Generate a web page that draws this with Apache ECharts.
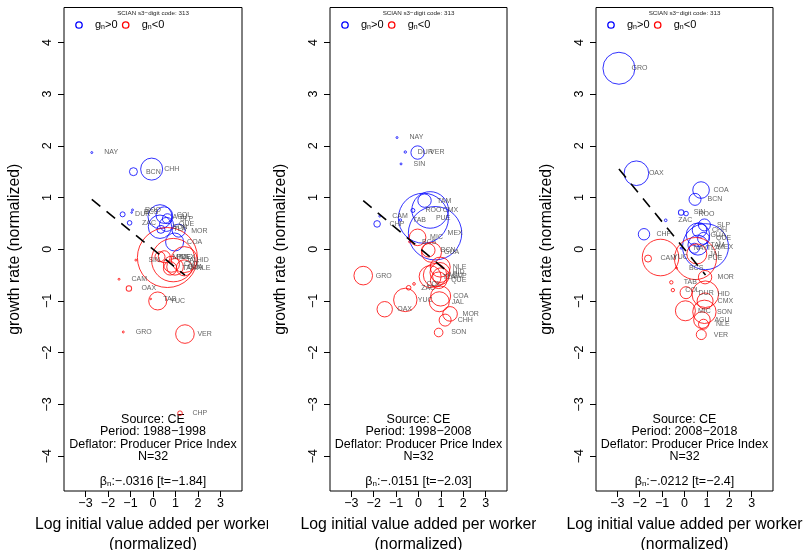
<!DOCTYPE html>
<html>
<head>
<meta charset="utf-8">
<script src="https://cdn.jsdelivr.net/npm/echarts@6.0.0/dist/echarts.min.js"></script>
<style>
  html, body { margin: 0; padding: 0; background: #fff; }
  #wrap { position: relative; width: 804px; height: 550px; overflow: hidden; background: #fff; }
  .panel { position: absolute; top: 0; width: 268px; height: 550px; }
</style>
</head>
<body>
<div id="wrap">
  <div class="panel" id="p1" style="left:0px"></div>
  <div class="panel" id="p2" style="left:268px"></div>
  <div class="panel" id="p3" style="left:536px"></div>
</div>
<script>
// ---------------- data: 1988-1998 ----------------
const states1   = ['NAY','BCN','CHH','DUR','ROO','BCS','ZAC','AGU','SON','COL','SLP','QUE','TLA','MOR','COA',
                   'SIN','MIC','CAM','OAX','TAB','YUC','GRO','VER','CHP','MEX','JAL','PUE','HID','CMX','NLE','GUA','TAM'];
const logva1    = [-2.72,-0.87,-0.06,-1.35,-0.91,-0.95,-1.04,0.31,0.31,0.50,0.64,0.60,0.35,1.14,0.96,
                   -0.76,0.31,-1.51,-1.07,-0.10,0.21,-1.32,1.42,1.20,0.64,0.90,0.50,1.39,0.82,1.39,0.98,0.76];
const growth1   = [1.87,1.50,1.55,0.675,0.76,0.71,0.51,0.63,0.435,0.66,0.59,0.48,0.385,0.36,0.14,
                   -0.21,-0.145,-0.58,-0.76,-0.96,-1.00,-1.60,-1.64,-3.17,-0.16,-0.21,-0.145,-0.20,-0.29,-0.36,-0.34,-0.37];
const share1    = [0.06,1.0,7.56,0.39,0.06,0.04,0.33,9.0,8.56,4.3,1.56,3.06,1.0,2.64,5.06,
                   0.06,1.56,0.06,0.46,0.04,5.06,0.06,5.4,0.33,56.25,29.4,2.25,10.56,4.0,4.0,4.3,2.8];
const gnPos1    = [1,1,1,1,1,1,1,1,1,1,1,1,1,1,1, 0,0,0,0,0,0,0,0,0,0,0,0,0,0,0,0,0];
const slope1 = -0.354, icpt1 = 0.0;

// ---------------- data: 1998-2008 ----------------
const states2   = ['NAY','DUR','VER','SIN','CHP','CAM','TAB','ROO','TAM','CMX','PUE','MEX',
                   'MIC','BCS','BCN','GUA','NLE','GRO','ZAC','COL','YUC','OAX','COA','JAL','MOR','CHH','SON','AGU','HID','SLP','QUE','TLA'];
const logva2    = [-0.96,-0.59,-0.04,-0.78,-1.85,-1.73,-0.81,-0.25,0.27,0.52,0.22,0.74,
                   -0.04,-0.40,0.44,0.58,0.97,-2.47,-0.44,-0.20,-0.59,-1.51,0.99,0.93,1.41,1.19,0.90,0.74,0.96,1.00,0.90,0.52];
const growth2   = [2.16,1.88,1.87,1.65,0.49,0.64,0.565,0.75,0.94,0.76,0.60,0.31,
                   0.23,0.145,-0.02,-0.06,-0.345,-0.51,-0.745,-0.67,-0.98,-1.16,-0.905,-1.015,-1.25,-1.37,-1.61,-0.50,-0.45,-0.52,-0.60,-0.53];
const share2    = [0.06,0.09,2.8,0.06,0.68,0.06,0.09,0.25,2.8,20.9,39.1,44.6,
                   4.3,0.06,2.8,6.25,6.25,5.4,0.33,0.11,8.56,3.7,6.25,6.25,3.33,2.25,1.16,8.56,6.25,4.3,4.3,7.56];
const gnPos2    = [1,1,1,1,1,1,1,1,1,1,1,1, 0,0,0,0,0,0,0,0,0,0,0,0,0,0,0,0,0,0,0,0];
const slope2 = -0.365, icpt2 = 0.04;

// ---------------- data: 2008-2018 ----------------
const states3   = ['GRO','OAX','COA','BCN','SIN','ROO','ZAC','CHP','SLP','CHH','GUA','QUE','TAM','MEX','NAY','TLA',
                   'CAM','YUC','PUE','JAL','BCS','MOR','TAB','COL','DUR','HID','CMX','MIC','SON','AGU','NLE','VER'];
const logva3    = [-2.93,-2.15,0.74,0.47,-0.15,0.07,-0.84,-1.81,0.89,0.67,0.60,0.85,0.60,0.94,-0.15,0.44,
                   -1.63,-1.07,0.49,0.55,-0.36,0.92,-0.59,-0.52,0.07,0.93,0.92,0.04,0.89,0.78,0.85,0.75];
const growth3   = [3.50,1.47,1.145,0.965,0.71,0.69,0.56,0.29,0.47,0.37,0.28,0.21,0.08,0.05,0.02,0.02,
                   -0.18,-0.16,-0.18,-0.09,-0.36,-0.54,-0.64,-0.79,-0.84,-0.87,-1.00,-1.19,-1.21,-1.37,-1.45,-1.65];
const share3    = [16,9.46,4.3,2.25,0.46,0.33,0.11,2.03,2.25,3.33,8.56,2.25,6.25,33,0.06,1.56,
                   0.77,20.9,27.6,6.25,0.06,2.8,0.18,0.18,2.25,11.06,4.0,6.25,8.56,4.3,1.56,1.56];
const gnPos3    = [1,1,1,1,1,1,1,1,1,1,1,1,1,1,1,1, 0,0,0,0,0,0,0,0,0,0,0,0,0,0,0,0];
const slope3 = -0.53, icpt3 = 0.0;

// ---------------- captions ----------------
const periods = ['1988\u22121998', '1998\u22122008', '2008\u22122018'];
const betas   = ['\u2212.0316', '\u2212.0151', '\u2212.0212'];
const tstats  = ['\u22121.84', '\u22122.03', '\u22122.4'];
const nObs    = [32, 32, 32];
const xTicks  = [-3, -2, -1, 0, 1, 2, 3];
const yTicks  = [-4, -3, -2, -1, 0, 1, 2, 3, 4];

const FONT = '"Liberation Sans", Arial, Helvetica, sans-serif';
const DIAM_PER_SQRT_SHARE = 8;
const fmtMinus = v => (v < 0 ? '\u2212' + Math.abs(v) : String(v));

function drawPanel(id, k, d, frame) {
  const chart = echarts.init(document.getElementById(id), null, { renderer: 'canvas', width: 268, height: 550 });
  const L = frame.left, W = frame.width, T = 7.5, H = 483.5;
  const cx = L + W / 2;

  const pos = [], neg = [], labels = [];
  d.states.forEach((s, i) => {
    const pt = [d.x[i], d.y[i], d.share[i], s];
    (d.pos[i] ? pos : neg).push(pt);
    labels.push(pt);
  });
  const xmin = Math.min(...d.x), xmax = Math.max(...d.x);
  const fit = [[xmin, d.a + d.b * xmin], [xmax, d.a + d.b * xmax]];

  const circles = (name, data, color) => ({
    name, type: 'scatter', data, symbol: 'circle',
    symbolSize: v => DIAM_PER_SQRT_SHARE * Math.sqrt(v[2]),
    itemStyle: { color: 'rgba(0,0,0,0)', borderColor: color, borderWidth: 1 },
    emphasis: { disabled: true }, silent: true, z: 2
  });

  chart.setOption({
    animation: false,
    backgroundColor: '#fff',
    textStyle: { fontFamily: FONT },
    grid: { left: L, top: T, width: W, height: H, show: true, borderColor: '#000', borderWidth: 1,
            backgroundColor: 'transparent', containLabel: false, outerBoundsMode: 'none' },
    xAxis: {
      type: 'value', min: -3.955, max: 3.955,
      axisLine: { show: false, onZero: false },
      axisTick: { show: true, length: 6, customValues: xTicks, lineStyle: { color: '#000', width: 1 } },
      axisLabel: { customValues: xTicks, formatter: fmtMinus, fontSize: 12.5, color: '#000', margin: 6, fontFamily: FONT },
      splitLine: { show: false },
      name: 'Log initial value added per worker\n(normalized)',
      nameLocation: 'middle', nameGap: 19,
      nameTextStyle: { fontSize: 15.8, lineHeight: 20, color: '#000', fontFamily: FONT }
    },
    yAxis: {
      type: 'value', min: -4.675, max: 4.675,
      axisLine: { show: false, onZero: false },
      axisTick: { show: true, length: 6, customValues: yTicks, lineStyle: { color: '#000', width: 1 } },
      axisLabel: { customValues: yTicks, formatter: fmtMinus, rotate: 90, fontSize: 12.5, color: '#000', margin: 10, fontFamily: FONT },
      splitLine: { show: false },
      name: 'growth rate (normalized)',
      nameLocation: 'middle', nameGap: 41, nameRotate: 90,
      nameTextStyle: { fontSize: 15.8, color: '#000', fontFamily: FONT }
    },
    series: [
      circles('g_n>0', pos, '#0000ff'),
      circles('g_n<0', neg, '#ff0000'),
      {
        name: 'fit', type: 'line', data: fit, showSymbol: false, silent: true, z: 3,
        lineStyle: { color: '#000', width: 1.6, type: [11, 8] }
      },
      {
        name: 'state', type: 'scatter', data: labels, symbolSize: 1, silent: true, z: 4,
        itemStyle: { color: 'rgba(0,0,0,0)' },
        label: {
          show: true, position: 'right', distance: 12,
          formatter: p => p.data[3], fontSize: 7, color: '#3a3a3a', fontFamily: FONT
        }
      }
    ],
    graphic: [
      { type: 'text', x: cx, y: 13, silent: true,
        style: { text: 'SCIAN s3\u2212digit code: 313', fontSize: 6.25, fill: '#222', font: '6.25px ' + FONT,
                 align: 'center', verticalAlign: 'middle', textAlign: 'center', textVerticalAlign: 'middle' } },
      { type: 'circle', shape: { cx: L + 15, cy: 25, r: 3.2 }, silent: true,
        style: { fill: 'none', stroke: '#0000ff', lineWidth: 1.3 } },
      { type: 'text', x: L + 31, y: 25, silent: true,
        style: { text: 'g{s|n}>0', fontSize: 11, fontFamily: FONT, fill: '#000', verticalAlign: 'middle', textVerticalAlign: 'middle',
                 rich: { s: { fontSize: 7, fontFamily: FONT, fill: '#000', verticalAlign: 'bottom', lineHeight: 8 } } } },
      { type: 'circle', shape: { cx: L + 61.7, cy: 25, r: 3.2 }, silent: true,
        style: { fill: 'none', stroke: '#ff0000', lineWidth: 1.3 } },
      { type: 'text', x: L + 77.7, y: 25, silent: true,
        style: { text: 'g{s|n}<0', fontSize: 11, fontFamily: FONT, fill: '#000', verticalAlign: 'middle', textVerticalAlign: 'middle',
                 rich: { s: { fontSize: 7, fontFamily: FONT, fill: '#000', verticalAlign: 'bottom', lineHeight: 8 } } } },
      { type: 'text', x: cx, y: 437.8, silent: true,
        style: { text: 'Source: CE\nPeriod: ' + periods[k] + '\nDeflator: Producer Price Index\nN=' + nObs[k],
                 fontSize: 12.5, lineHeight: 12.5, fontFamily: FONT, fill: '#000',
                 align: 'center', verticalAlign: 'middle', textAlign: 'center', textVerticalAlign: 'middle' } },
      { type: 'text', x: cx, y: 481.7, silent: true,
        style: { text: '\u03b2{s|n}:' + betas[k] + ' [t=' + tstats[k] + ']',
                 fontSize: 12.5, fontFamily: FONT, fill: '#000',
                 align: 'center', verticalAlign: 'middle', textAlign: 'center', textVerticalAlign: 'middle',
                 rich: { s: { fontSize: 8, fontFamily: FONT, fill: '#000', verticalAlign: 'bottom', lineHeight: 8 } } } }
    ]
  });
}

drawPanel('p1', 0, { states: states1, x: logva1, y: growth1, share: share1, pos: gnPos1, a: icpt1, b: slope1 }, { left: 64, width: 178 });
drawPanel('p2', 1, { states: states2, x: logva2, y: growth2, share: share2, pos: gnPos2, a: icpt2, b: slope2 }, { left: 62, width: 177 });
drawPanel('p3', 2, { states: states3, x: logva3, y: growth3, share: share3, pos: gnPos3, a: icpt3, b: slope3 }, { left: 60, width: 177 });
</script>
</body>
</html>
